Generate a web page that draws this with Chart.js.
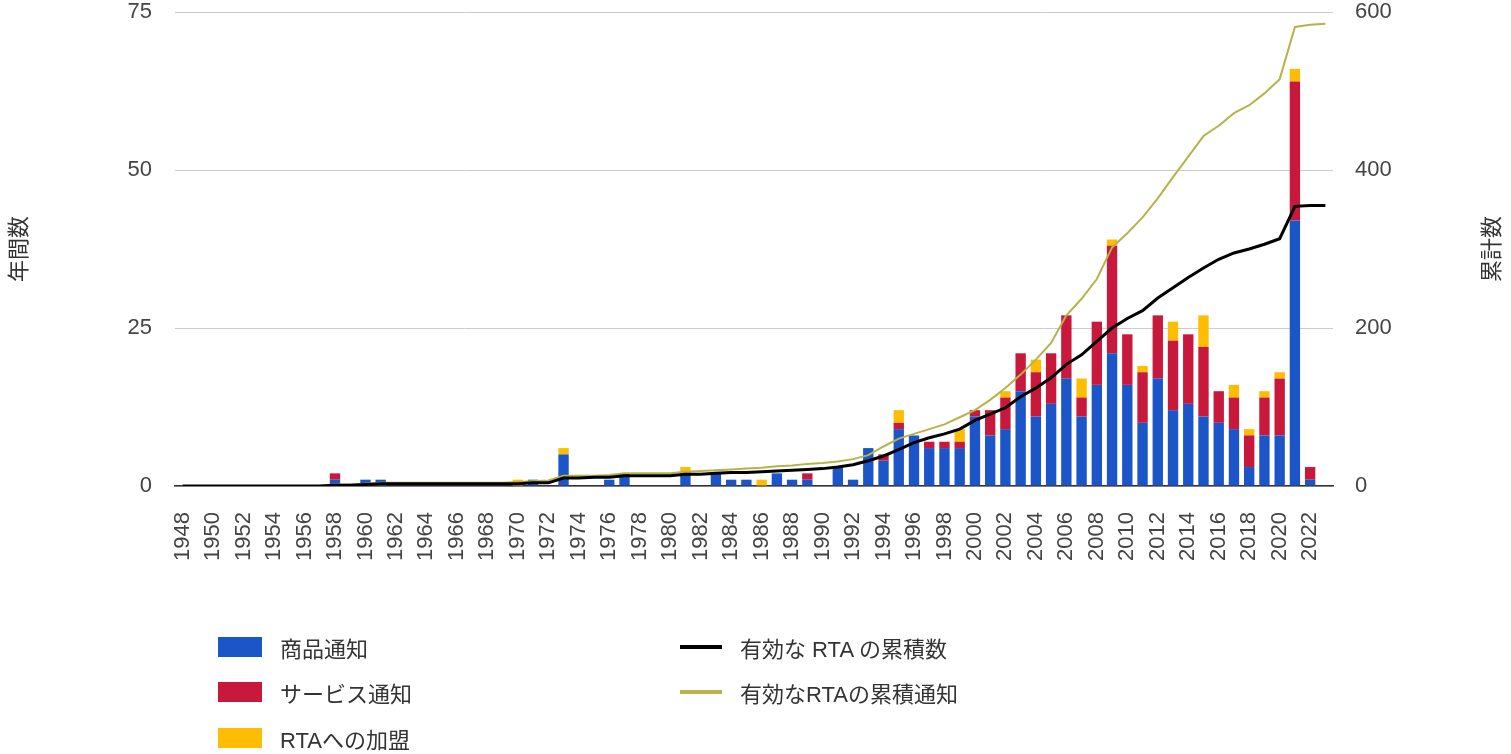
<!DOCTYPE html>
<html lang="ja">
<head>
<meta charset="utf-8">
<script src="https://cdn.jsdelivr.net/npm/chart.js@4"></script>
<style>
  html, body { margin:0; padding:0; background:#fff; }
  body { width:1511px; height:754px; position:relative; overflow:hidden;
         font-family: "Liberation Sans", Arial, "Noto Sans CJK JP", sans-serif; }
  #wrap { position:absolute; left:0; top:0; width:1511px; height:610px; }
  #legend { position:absolute; left:0; top:0; width:1511px; height:754px; pointer-events:none; }
  .item { position:absolute; display:flex; align-items:center; height:30px; font-size:22px; color:#333; white-space:nowrap; }
  .sw { flex:none; margin-right:18px; }
</style>
</head>
<body>
<div id="wrap"><canvas id="c"></canvas></div>
<div id="legend"></div>
<script>
// ---- data ----
const years = [1948,1949,1950,1951,1952,1953,1954,1955,1956,1957,1958,1959,1960,1961,1962,1963,1964,1965,1966,1967,
  1968,1969,1970,1971,1972,1973,1974,1975,1976,1977,1978,1979,1980,1981,1982,1983,1984,1985,1986,1987,
  1988,1989,1990,1991,1992,1993,1994,1995,1996,1997,1998,1999,2000,2001,2002,2003,2004,2005,2006,2007,
  2008,2009,2010,2011,2012,2013,2014,2015,2016,2017,2018,2019,2020,2021,2022,2023];

const xTickLabels = ["1948","1950","1952","1954","1956","1958","1960","1962","1964","1966","1968","1970","1972",
  "1974","1976","1978","1980","1982","1984","1986","1988","1990","1992","1994","1996","1998","2000","2002",
  "2004","2006","2008","2010","2012","2014","2016","2018","2020","2022"];

const goodsNotif = [0,0,0,0,0,0,0,0,0,0,1,0,1,1,0,0,0,0,0,0,
  0,0,0,1,0,5,0,0,1,2,0,0,0,2,0,2,1,1,0,2,
  1,1,0,3,1,6,4,9,8,6,6,6,11,8,9,15,11,13,17,11,
  16,21,16,10,17,12,13,11,10,9,3,8,8,42,1,0];

const servicesNotif = [0,0,0,0,0,0,0,0,0,0,1,0,0,0,0,0,0,0,0,0,
  0,0,0,0,0,0,0,0,0,0,0,0,0,0,0,0,0,0,0,0,
  0,1,0,0,0,0,1,1,0,1,1,1,1,4,5,6,7,8,10,3,
  10,17,8,8,10,11,11,11,5,5,5,6,9,22,2,0];

const accessions = [0,0,0,0,0,0,0,0,0,0,0,0,0,0,0,0,0,0,0,0,
  0,0,1,0,0,1,0,0,0,0,0,0,0,1,0,0,0,0,1,0,
  0,0,0,0,0,0,0,2,0,0,0,2,0,0,1,0,2,0,0,3,
  0,1,0,1,0,3,0,5,0,2,1,1,1,2,0,0];

const cumulativeInForce = [0,0,0,0,0,0,0,0,0,0,1,1,2,3,3,3,3,3,3,3,
  3,3,3,4,4,10,10,11,11,13,13,13,13,15,15,16,17,17,18,19,
  20,21,22,24,27,32,38,46,55,61,66,72,83,91,99,113,124,137,154,166,
  183,200,212,222,238,251,264,276,287,295,300,306,313,354,355,355];

const cumulativeNotif = [0,0,0,0,0,0,0,0,0,0,2,2,3,4,4,4,4,4,4,4,
  4,4,5,6,7,13,13,13,14,16,16,16,16,18,19,20,21,22,23,25,
  26,28,29,31,34,39,50,60,66,72,78,87,96,109,124,141,160,181,216,237,
  262,302,320,340,364,391,417,443,456,472,482,497,515,581,584,585];

const seriesLabels = ["商品通知","サービス通知","RTAへの加盟","有効な RTA の累積数","有効なRTAの累積通知"];
const leftTitle = "年間数";
const rightTitle = "累計数";
const leftTicks = [0,25,50,75];
const rightTicks = [0,200,400,600];

// ---- styles ----
const FONT = '"Liberation Sans", Arial, "Noto Sans CJK JP", sans-serif';
const C_BLUE = '#1c55c8', C_RED = '#c8183c', C_YEL = '#fdbd00', C_BLACK = '#000000', C_OLIVE = '#b8b24a';

const axisTitles = {
  id: 'axisTitles',
  afterDraw(chart) {
    const ctx = chart.ctx, a = chart.chartArea;
    const cy = (a.top + a.bottom) / 2;
    ctx.save();
    ctx.fillStyle = '#333';
    ctx.font = '22px ' + FONT;
    ctx.textAlign = 'center';
    ctx.textBaseline = 'middle';
    [[20, leftTitle], [1493, rightTitle]].forEach(([x, t]) => {
      ctx.save();
      ctx.translate(x, cy);
      ctx.rotate(-Math.PI / 2);
      ctx.fillText(t, 0, 0);
      ctx.restore();
    });
    ctx.restore();
  }
};

const chart = new Chart(document.getElementById('c'), {
  type: 'bar',
  data: {
    labels: years.map(String),
    datasets: [
      { type:'line', label: seriesLabels[3], data: cumulativeInForce, yAxisID:'y2', borderColor:C_BLACK, backgroundColor:C_BLACK,
        borderWidth:3, pointRadius:0, tension:0, order:0 },
      { type:'line', label: seriesLabels[4], data: cumulativeNotif, yAxisID:'y2', borderColor:C_OLIVE, backgroundColor:C_OLIVE,
        borderWidth:2, pointRadius:0, tension:0, order:1 },
      { label: seriesLabels[0], data: goodsNotif, backgroundColor:C_BLUE, yAxisID:'y', order:2, stack:'s' },
      { label: seriesLabels[1], data: servicesNotif, backgroundColor:C_RED, yAxisID:'y', order:2, stack:'s' },
      { label: seriesLabels[2], data: accessions, backgroundColor:C_YEL, yAxisID:'y', order:2, stack:'s' }
    ]
  },
  options: {
    responsive: true,
    maintainAspectRatio: false,
    animation: false,
    layout: { padding: { top: 12, left: 0, right: 0, bottom: 0 } },
    datasets: { bar: { categoryPercentage: 1.0, barPercentage: 0.68 } },
    plugins: { legend: { display:false }, tooltip: { enabled:false } },
    scales: {
      x: {
        stacked: true,
        grid: { display:false },
        border: { display:true, color:'#333', width:1.5 },
        ticks: {
          autoSkip:false, maxRotation:90, minRotation:90, padding:18,
          color:'#444', font:{ size:22, family:FONT },
          callback(v) { const l = years[v].toString(); return xTickLabels.includes(l) ? l : ''; }
        },
        afterFit(s) { s.height = 124; }
      },
      y: {
        position:'left', stacked:true, min:0, max:75,
        afterBuildTicks(s) { s.ticks = leftTicks.map(v => ({ value:v })); },
        grid: { color:'#cccccc', drawTicks:false },
        border: { display:false },
        ticks: { padding:23, color:'#444', font:{ size:22, family:FONT } },
        afterFit(s) { s.width = 175; s.paddingTop = 0; s.paddingBottom = 0; }
      },
      y2: {
        position:'right', stacked:false, min:0, max:600,
        afterBuildTicks(s) { s.ticks = rightTicks.map(v => ({ value:v })); },
        grid: { display:false, drawTicks:false },
        border: { display:false },
        ticks: { padding:22, color:'#444', font:{ size:22, family:FONT } },
        afterFit(s) { s.width = 178; s.paddingTop = 0; s.paddingBottom = 0; }
      }
    }
  },
  plugins: [axisTitles]
});

// ---- HTML legend built from datasets ----
const legend = document.getElementById('legend');
const byLabel = {};
chart.data.datasets.forEach(d => byLabel[d.label] = d);
const placements = [
  [seriesLabels[0], 218, 647], [seriesLabels[1], 218, 692], [seriesLabels[2], 218, 738],
  [seriesLabels[3], 680, 647], [seriesLabels[4], 680, 692]
];
placements.forEach(([lab, x, y]) => {
  const d = byLabel[lab];
  const it = document.createElement('div');
  it.className = 'item';
  it.style.left = x + 'px';
  it.style.top = (y - 15) + 'px';
  const sw = document.createElement('span');
  sw.className = 'sw';
  if (d.type === 'line') { sw.style.width = '42px'; sw.style.height = '4px'; sw.style.background = d.borderColor; }
  else { sw.style.width = '44px'; sw.style.height = '20px'; sw.style.background = d.backgroundColor; }
  const tx = document.createElement('span');
  tx.textContent = lab;
  it.appendChild(sw); it.appendChild(tx);
  legend.appendChild(it);
});
</script>
</body>
</html>
